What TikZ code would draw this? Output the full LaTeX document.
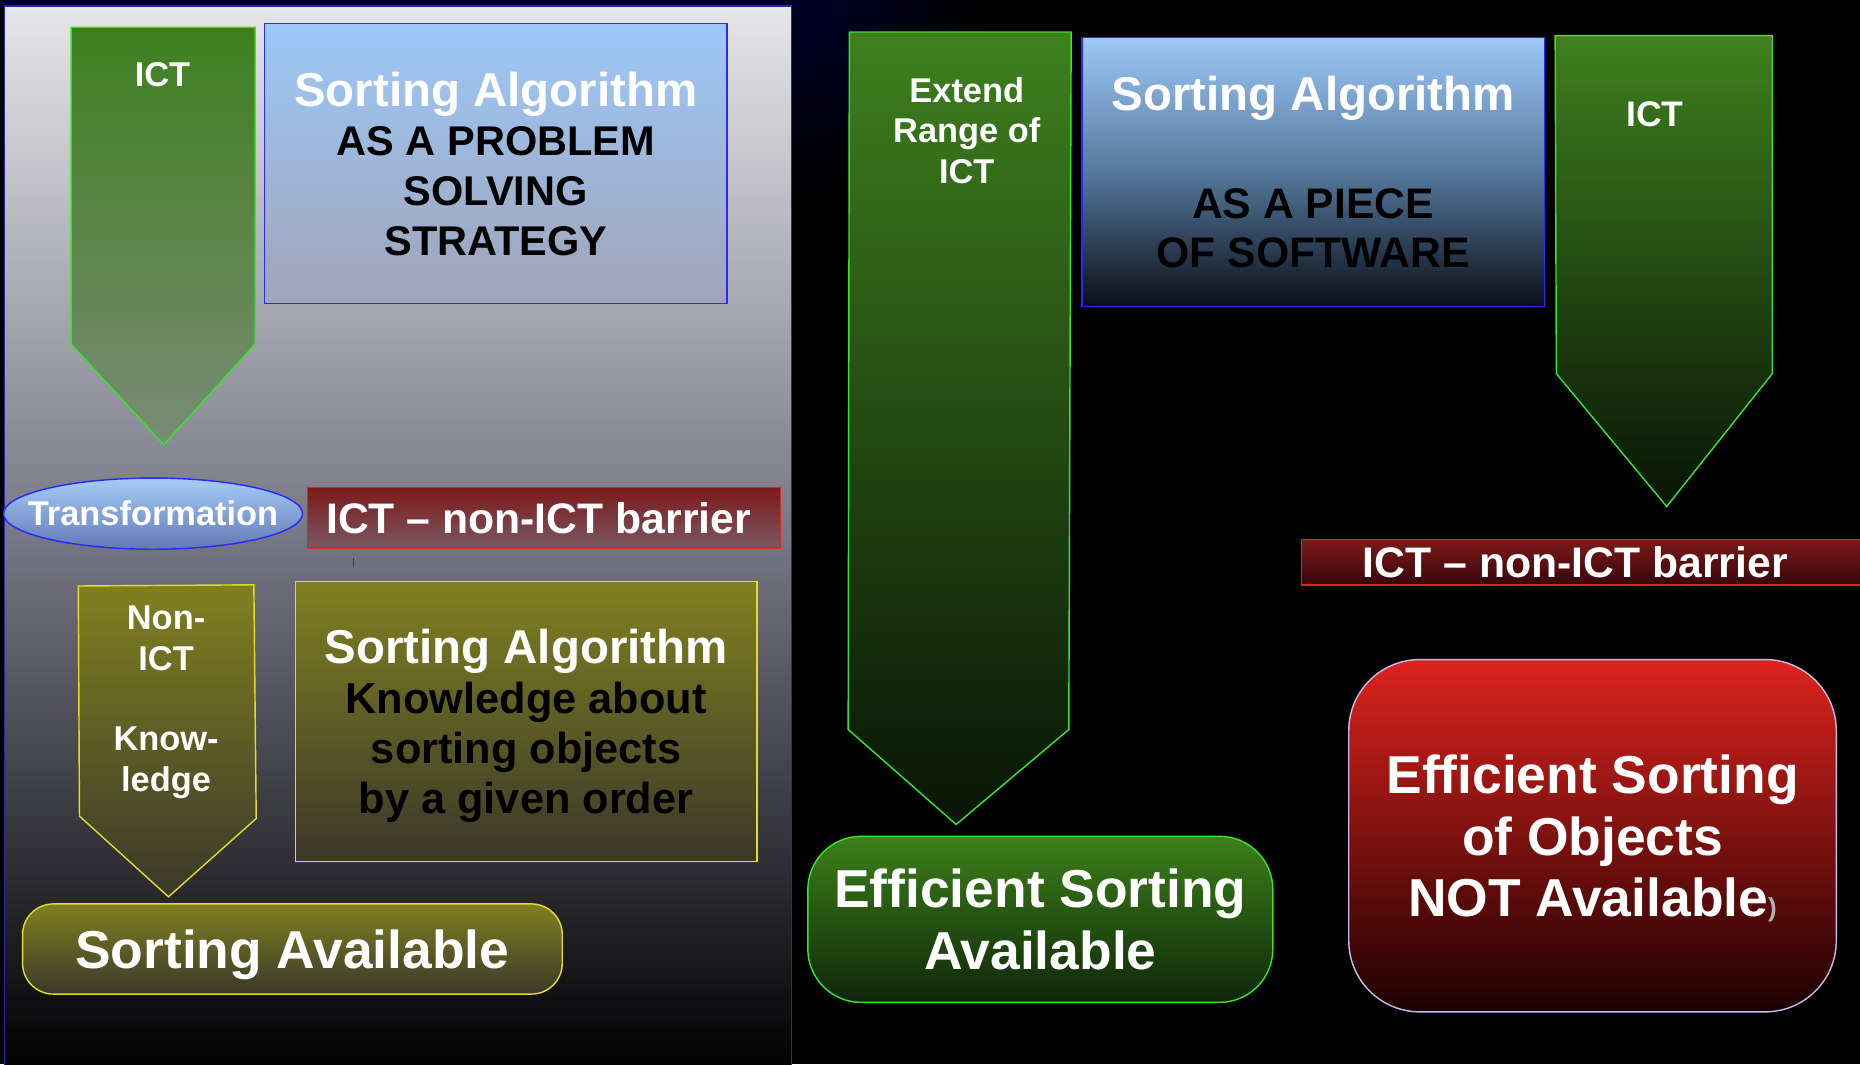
\documentclass[tikz,border=0pt]{standalone}
\usepackage{fontspec}
\setmainfont{Liberation Sans}
\usetikzlibrary{shapes.geometric}

\definecolor{navybg}{RGB}{0,0,42}
\definecolor{paneltop}{RGB}{230,230,232}
\definecolor{panelmid}{RGB}{118,118,132}
\definecolor{panelline}{RGB}{40,40,175}
\definecolor{ictgreen}{RGB}{62,128,30}
\definecolor{ictfade}{RGB}{122,140,118}
\definecolor{ictdark}{RGB}{8,20,5}
\definecolor{greenline}{RGB}{50,230,40}
\definecolor{skytop}{RGB}{156,200,248}
\definecolor{skybottom}{RGB}{160,164,184}
\definecolor{skymid}{RGB}{85,120,155}
\definecolor{skydark}{RGB}{10,15,25}
\definecolor{boxblue}{RGB}{40,40,255}
\definecolor{ovaltop}{RGB}{165,205,248}
\definecolor{ovalbottom}{RGB}{100,120,180}
\definecolor{wallred}{RGB}{125,25,25}
\definecolor{wallfade}{RGB}{122,88,98}
\definecolor{walldark}{RGB}{55,5,10}
\definecolor{wallline}{RGB}{215,40,30}
\definecolor{olivefill}{RGB}{128,128,32}
\definecolor{olivedark}{RGB}{58,56,42}
\definecolor{oliveline}{RGB}{225,220,40}
\definecolor{okgreen}{RGB}{60,128,25}
\definecolor{okdark}{RGB}{15,38,10}
\definecolor{alarmred}{RGB}{222,35,30}
\definecolor{alarmdark}{RGB}{28,0,0}
\definecolor{alarmline}{RGB}{200,185,235}

\newcommand{\fsz}[2]{\fontsize{#1}{#2}\selectfont\bfseries}
\newcommand{\algtitle}[1]{{\fontsize{40}{42}\selectfont\color{white}#1}}

\tikzset{
  box/.style={rectangle, align=center, inner sep=0pt, text=black, text depth=0pt},
  wall/.style={draw=wallline},
  walltext/.style={text=white, font=\fsz{36}{40}},
  result/.style={rectangle, align=center, inner sep=0pt, text=white, text depth=0pt, font=\fsz{45}{52}},
  ictarrow/.style={draw=greenline},
  arrowtext/.style={text=white, align=center, font=\fsz{29}{34}}
}

\begin{document}
\begin{tikzpicture}[x=1pt, y=-1pt, line width=1.2pt]
\useasboundingbox (0,0) rectangle (1568,897);

% Background
\fill[black] (0,0) rectangle (1568,897);
\shade[inner color=navybg, outer color=black] (667,0) circle (170pt);
\fill[navybg] (0,0) rectangle (667,6);
\path[draw=panelline, top color=paneltop, bottom color=black, middle color=panelmid] (4,5) rectangle (667,905);

% Arrows
\path[ictarrow, top color=ictgreen, bottom color=ictfade]
  (60,23) -- (215,23) -- (215,290) -- (138,375) -- (60,290) -- cycle;
\node[arrowtext] (ict_left) at (137,63) {ICT};

\path[draw=oliveline, top color=olivefill, bottom color=olivedark]
  (66,494) -- (214,493) -- (216,690) -- (142,756) -- (67,688) -- cycle;
\node[arrowtext] (non_ict) at (140,592) {Non-\\ICT\\[34pt]Know-\\ledge};

\path[ictarrow, top color=ictgreen, bottom color=ictdark]
  (716,27) -- (903,27) -- (901,615) -- (806,695) -- (715,615) -- cycle;
\node[arrowtext] (extend_range) at (815,110) {Extend\\Range of\\ICT};

\path[ictarrow, top color=ictgreen, bottom color=ictdark]
  (1311,30) -- (1494,30) -- (1494,315) -- (1405,427) -- (1312,315) -- cycle;
\node[arrowtext, font=\fsz{30}{34}] (ict_right) at (1395,96) {ICT};

% Algorithm boxes
\node[box, draw=boxblue, top color=skytop, bottom color=skybottom, minimum width=390pt, minimum height=236pt, font=\fsz{35}{42}] (problem_solving) at (418,138) {\algtitle{Sorting Algorithm}\\AS A PROBLEM\\SOLVING\\STRATEGY};
\node[box, draw=boxblue, top color=skytop, bottom color=skydark, middle color=skymid, minimum width=390pt, minimum height=227pt, font=\fsz{36}{41}] (software) at (1107,145) {\algtitle{Sorting Algorithm}\\[50pt]AS A PIECE\\OF SOFTWARE};
\node[box, draw=oliveline, top color=olivefill, bottom color=olivedark, minimum width=389pt, minimum height=236pt, font=\fsz{36.5}{42}] (knowledge) at (443.5,608) {\algtitle{Sorting Algorithm}\\Knowledge about\\sorting objects\\by a given order};

% Transformation and barriers
\node[ellipse, draw=boxblue, top color=ovaltop, bottom color=ovalbottom, minimum width=252pt, minimum height=60pt, inner sep=0pt] (transformation) at (129,433) {};
\node[text=white, font=\fsz{29}{34}] (transformation_text) at (transformation) {Transformation};
\path[wall, top color=wallred, bottom color=wallfade] (259,411) rectangle (658,462);
\node[walltext] (barrier_left) at (454,437) {ICT – non-ICT barrier};
\path[wall, top color=wallred, bottom color=walldark] (1097,455) rectangle (1575,493);
\node[walltext] (barrier_right) at (1328,474) {ICT – non-ICT barrier};
\draw[boxblue, line width=1pt] (298,470) -- (298,478);

% Results
\node[result, draw=oliveline, top color=olivefill, bottom color=olivedark, minimum width=455pt, minimum height=76pt, rounded corners=26pt] (sorting_available) at (246.5,800) {Sorting Available};
\node[result, draw=greenline, top color=okgreen, bottom color=okdark, minimum width=392pt, minimum height=140pt, rounded corners=45pt] (efficient_available) at (877,775) {Efficient Sorting\\Available};
\node[result, draw=alarmline, top color=alarmred, bottom color=alarmdark, minimum width=411pt, minimum height=297pt, rounded corners=60pt] (not_available) at (1342.5,704.5) {Efficient Sorting\\of Objects\\NOT Available{\fsz{22}{22}\color{gray!60})}};

\end{tikzpicture}
\end{document}
